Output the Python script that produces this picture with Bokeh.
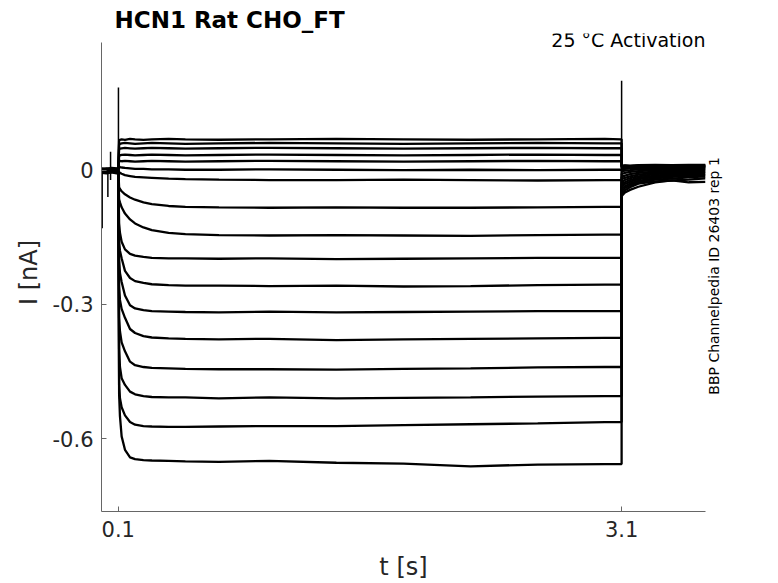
import math
from bokeh.plotting import figure
from bokeh.models import (Range1d, FixedTicker, Label, ColumnDataSource, Title, LinearAxis,
                          InlineStyleSheet)
from bokeh.embed import file_html
from bokeh.resources import INLINE

# ---------------- text ----------------
title_text = "HCN1  Rat  CHO_FT"
condition_text = "25 °C  Activation"
source_text = "BBP Channelpedia ID 26403 rep 1"
x_label = "t [s]"
y_label = "I [nA]"

# ---------------- axes ----------------
x_ticks = [0.1, 3.1]
x_tick_labels = ["0.1", "3.1"]
y_ticks = [-0.6, -0.3, 0.0]
y_tick_labels = ["-0.6", "-0.3", "0"]
x_limits = [0.0, 3.6]          # extent of the x axis
y_limits = [-0.763, 0.2855]    # extent of the drawn y axis

# ---------------- data ----------------
t_pre = [0.0, 0.03, 0.06, 0.09]
t_step = [0.1, 0.105, 0.11, 0.12, 0.14, 0.17, 0.2, 0.25, 0.3, 0.4, 0.5,
          0.7, 1.0, 1.4, 1.8, 2.2, 2.6, 3.0, 3.1]
t_tail = [3.1, 3.105, 3.12, 3.15, 3.2, 3.3, 3.4, 3.5, 3.6]

pre_currents = [
    [0.004, 0.003, 0.005, 0.004],
    [0.002, 0.004, 0.003, 0.003],
    [0.001, 0.002, 0.001, 0.003],
    [0.000, 0.001, 0.002, 0.001],
    [-0.001, 0.000, 0.001, 0.000],
    [-0.002, -0.001, 0.000, -0.001],
    [-0.003, -0.002, -0.001, -0.002],
    [0.003, 0.002, 0.003, 0.002],
    [0.002, 0.001, 0.003, 0.001],
    [0.001, 0.000, 0.002, 0.000],
    [0.000, -0.001, 0.001, -0.001],
    [-0.001, -0.002, 0.000, -0.002],
    [-0.002, -0.003, -0.001, -0.003],
    [-0.003, -0.004, -0.002, -0.004],
    [-0.004, -0.005, -0.003, -0.005],
    [-0.005, -0.006, -0.004, -0.006],
    [-0.006, -0.007, -0.005, -0.007],
]

step_currents = [
    [0.004, 0.066, 0.068, 0.069, 0.068, 0.070, 0.069, 0.068, 0.069, 0.070, 0.069, 0.068, 0.069, 0.070, 0.069, 0.068, 0.069, 0.070, 0.069],
    [0.003, 0.058, 0.059, 0.060, 0.061, 0.060, 0.059, 0.060, 0.061, 0.060, 0.059, 0.060, 0.061, 0.060, 0.059, 0.060, 0.061, 0.060, 0.060],
    [0.003, 0.047, 0.048, 0.049, 0.050, 0.049, 0.048, 0.049, 0.050, 0.049, 0.048, 0.049, 0.050, 0.049, 0.048, 0.049, 0.050, 0.049, 0.049],
    [0.001, 0.032, 0.033, 0.034, 0.035, 0.034, 0.033, 0.034, 0.035, 0.034, 0.033, 0.034, 0.035, 0.034, 0.033, 0.034, 0.035, 0.034, 0.034],
    [0.000, 0.021, 0.021, 0.020, 0.021, 0.020, 0.019, 0.020, 0.021, 0.020, 0.019, 0.020, 0.021, 0.020, 0.019, 0.020, 0.021, 0.020, 0.020],
    [-0.001, 0.008, 0.007, 0.006, 0.005, 0.004, 0.003, 0.003, 0.002, 0.002, 0.001, 0.001, 0.002, 0.001, 0.000, 0.001, 0.000, 0.001, 0.001],
    [-0.002, -0.004, -0.006, -0.008, -0.011, -0.013, -0.015, -0.016, -0.017, -0.019, -0.020, -0.021, -0.022, -0.022, -0.021, -0.022, -0.023, -0.022, -0.022],
    [0.002, -0.038, -0.042, -0.047, -0.054, -0.061, -0.066, -0.072, -0.076, -0.080, -0.082, -0.083, -0.084, -0.083, -0.084, -0.084, -0.083, -0.082, -0.082],
    [0.001, -0.065, -0.072, -0.083, -0.097, -0.110, -0.119, -0.128, -0.134, -0.140, -0.143, -0.145, -0.146, -0.145, -0.146, -0.147, -0.145, -0.144, -0.144],
    [0.000, -0.120, -0.140, -0.160, -0.177, -0.187, -0.191, -0.194, -0.196, -0.197, -0.197, -0.198, -0.197, -0.199, -0.198, -0.197, -0.196, -0.196, -0.196],
    [-0.001, -0.160, -0.180, -0.197, -0.225, -0.241, -0.248, -0.252, -0.255, -0.257, -0.258, -0.258, -0.259, -0.258, -0.260, -0.259, -0.257, -0.256, -0.256],
    [-0.002, -0.200, -0.230, -0.250, -0.280, -0.302, -0.309, -0.313, -0.315, -0.316, -0.317, -0.318, -0.316, -0.318, -0.317, -0.316, -0.315, -0.315, -0.315],
    [-0.003, -0.260, -0.290, -0.310, -0.330, -0.355, -0.364, -0.371, -0.374, -0.376, -0.377, -0.378, -0.377, -0.380, -0.378, -0.377, -0.376, -0.375, -0.375],
    [-0.004, -0.330, -0.360, -0.385, -0.405, -0.428, -0.436, -0.440, -0.442, -0.443, -0.444, -0.445, -0.445, -0.446, -0.444, -0.443, -0.441, -0.440, -0.440],
    [-0.005, -0.400, -0.440, -0.465, -0.480, -0.495, -0.501, -0.505, -0.507, -0.508, -0.508, -0.510, -0.508, -0.510, -0.509, -0.508, -0.506, -0.505, -0.505],
    [-0.006, -0.480, -0.510, -0.530, -0.548, -0.563, -0.569, -0.572, -0.573, -0.574, -0.574, -0.573, -0.572, -0.572, -0.570, -0.568, -0.566, -0.563, -0.563],
    [-0.007, -0.500, -0.550, -0.595, -0.625, -0.642, -0.646, -0.648, -0.649, -0.650, -0.651, -0.652, -0.650, -0.654, -0.656, -0.662, -0.658, -0.657, -0.657],
]

tail_currents = [
    [0.011, 0.010, 0.011, 0.010, 0.011, 0.012, 0.011, 0.012, 0.012],
    [0.009, 0.009, 0.010, 0.009, 0.010, 0.010, 0.011, 0.010, 0.011],
    [0.008, 0.008, 0.008, 0.009, 0.009, 0.009, 0.010, 0.009, 0.010],
    [0.006, 0.007, 0.007, 0.008, 0.008, 0.008, 0.009, 0.009, 0.009],
    [0.004, 0.005, 0.006, 0.006, 0.007, 0.007, 0.008, 0.008, 0.008],
    [0.002, 0.002, 0.003, 0.004, 0.005, 0.006, 0.006, 0.007, 0.007],
    [-0.002, -0.002, -0.001, 0.000, 0.002, 0.003, 0.004, 0.005, 0.006],
    [-0.008, -0.008, -0.006, -0.004, -0.002, 0.000, 0.002, 0.003, 0.004],
    [-0.015, -0.014, -0.012, -0.009, -0.006, -0.003, -0.001, 0.001, 0.002],
    [-0.020, -0.019, -0.017, -0.014, -0.010, -0.006, -0.003, -0.001, 0.000],
    [-0.026, -0.025, -0.022, -0.018, -0.014, -0.009, -0.006, -0.004, -0.003],
    [-0.031, -0.030, -0.027, -0.022, -0.017, -0.012, -0.009, -0.007, -0.005],
    [-0.036, -0.035, -0.031, -0.026, -0.020, -0.015, -0.012, -0.010, -0.008],
    [-0.041, -0.040, -0.036, -0.030, -0.024, -0.018, -0.015, -0.013, -0.011],
    [-0.046, -0.045, -0.040, -0.034, -0.027, -0.021, -0.019, -0.016, -0.014],
    [-0.051, -0.050, -0.045, -0.038, -0.030, -0.025, -0.023, -0.021, -0.018],
    [-0.058, -0.056, -0.050, -0.044, -0.037, -0.027, -0.023, -0.027, -0.026],
]

# capacitive transients (vertical spikes)
spike_times = [0.004, 0.038, 0.054, 0.101, 3.1]
spike_high = [0.005, 0.000, 0.041, 0.185, 0.200]
spike_low = [-0.130, -0.060, -0.022, -0.010, -0.010]

# ---------------- figure ----------------
FONT = "DejaVu Sans"
TEXT_COLOR = "#262626"

AX_LEFT, AX_RIGHT, AX_TOP, AX_BOTTOM = 101, 705, 42, 512
FR_TOP = 33   # frame reaches a little above the y axis so the note is not clipped
px_per_y = (AX_BOTTOM - AX_TOP) / (y_limits[1] - y_limits[0])
y_end = y_limits[1] + (AX_TOP - FR_TOP) / px_per_y

p = figure(width=778, height=583, output_backend="svg", toolbar_location=None,
           x_range=Range1d(x_limits[0], x_limits[1]),
           y_range=Range1d(y_limits[0], y_end),
           min_border_left=AX_LEFT, min_border_right=778 - AX_RIGHT,
           min_border_top=FR_TOP, min_border_bottom=583 - AX_BOTTOM)
p.outline_line_color = None
p.xgrid.grid_line_color = None
p.ygrid.grid_line_color = None
p.background_fill_color = "white"
p.border_fill_color = "white"
p.stylesheets = [InlineStyleSheet(css=":host { white-space: pre !important; } "
                                      "* { white-space: pre !important; }")]

p.title = Title(text=title_text, align="left", offset=13, standoff=1,
                vertical_align="bottom",
                text_font=FONT, text_font_size="23px", text_font_style="bold",
                text_color="black")

xs = [t_pre + t_step + t_tail for _ in step_currents]
ys = [pre_currents[k] + step_currents[k] + tail_currents[k] for k in range(len(step_currents))]
src = ColumnDataSource(data=dict(xs=xs, ys=ys))
p.multi_line(xs="xs", ys="ys", source=src, line_color="black", line_width=2.3)

spike_src = ColumnDataSource(data=dict(t=spike_times, hi=spike_high, lo=spike_low))
p.segment(x0="t", y0="lo", x1="t", y1="hi", source=spike_src,
          line_color="black", line_width=1.5)

for ax, ticks, labels, lims in ((p.xaxis, x_ticks, x_tick_labels, x_limits),
                                (p.yaxis, y_ticks, y_tick_labels, y_limits)):
    ax.ticker = FixedTicker(ticks=ticks)
    ax.bounds = (lims[0], lims[1])
    ax.major_label_overrides = {t: l for t, l in zip(ticks, labels)}
    ax.axis_line_color = "#666666"
    ax.axis_line_width = 1
    ax.major_tick_line_color = "#666666"
    ax.major_tick_in = 5
    ax.major_tick_out = 0
    ax.minor_tick_line_color = None
    ax.major_label_text_font = FONT
    ax.major_label_text_font_size = "21px"
    ax.major_label_text_color = TEXT_COLOR
    ax.axis_label_text_font = FONT
    ax.axis_label_text_font_size = "24px"
    ax.axis_label_text_font_style = "normal"
    ax.axis_label_text_color = TEXT_COLOR

p.xaxis.axis_label = x_label
p.yaxis.axis_label = y_label
p.xaxis.major_label_standoff = 9
p.xaxis.axis_label_standoff = 13
p.yaxis.major_label_standoff = 8
p.yaxis.axis_label_standoff = 7

# vertical source note on the right: the single rotated label of a bare right axis,
# its lower end placed at page y = 395 so that the text runs up to about y = 160
note_start_y = -(395 - 170) / px_per_y
note_axis = LinearAxis(ticker=FixedTicker(ticks=[note_start_y]),
                       major_label_overrides={note_start_y: source_text},
                       major_label_orientation=math.pi / 2,
                       axis_line_color=None, major_tick_line_color=None,
                       minor_tick_line_color=None, major_label_standoff=9,
                       major_tick_in=0, major_tick_out=0,
                       major_label_text_font=FONT, major_label_text_font_size="14px",
                       major_label_text_color="black")
p.add_layout(note_axis, "right")

p.add_layout(Label(x=711 - AX_LEFT, y=AX_BOTTOM - 40, x_units="screen", y_units="screen",
                   text=condition_text, text_font=FONT, text_font_size="19px",
                   text_color="black", text_align="right", text_baseline="middle"))

open("out.html", "w").write(file_html(p, INLINE))
